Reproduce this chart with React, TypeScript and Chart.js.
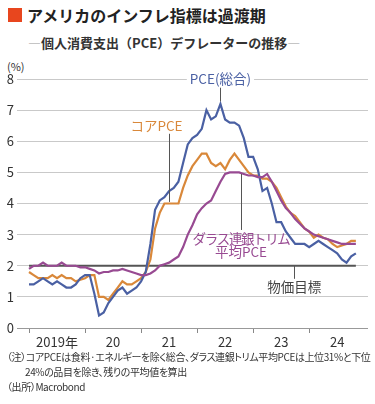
import React, { useEffect, useRef } from "react";
import { Chart, registerables } from "chart.js";

Chart.register(...registerables);

const yearLabels = ["2019年", "20", "21", "22", "23", "24"];
const yTicks = [0, 1, 2, 3, 4, 5, 6, 7, 8];

// Monthly, Jan 2019 .. Nov 2024 (year-over-year %)
const pceHeadline = [
  1.4, 1.4, 1.5, 1.6, 1.5, 1.4, 1.5, 1.4, 1.3, 1.3, 1.4, 1.6,
  1.7, 1.7, 1.1, 0.4, 0.5, 0.8, 1.0, 1.2, 1.3, 1.1, 1.2, 1.3,
  1.5, 1.8, 2.7, 3.8, 4.1, 4.2, 4.4, 4.5, 4.7, 5.3, 5.9, 6.1,
  6.2, 6.4, 7.0, 6.7, 6.8, 7.2, 6.7, 6.6, 6.6, 6.5, 6.1, 5.5,
  5.5, 5.1, 4.4, 4.5, 4.0, 3.4, 3.4, 3.1, 2.9, 2.7, 2.7, 2.7,
  2.6, 2.7, 2.8, 2.7, 2.6, 2.5, 2.4, 2.2, 2.1, 2.3, 2.4,
];
const pceCore = [
  1.8, 1.7, 1.6, 1.6, 1.6, 1.7, 1.6, 1.7, 1.6, 1.6, 1.5, 1.55,
  1.6, 1.7, 1.7, 1.0, 1.0, 0.9, 1.1, 1.3, 1.5, 1.4, 1.4, 1.5,
  1.6, 1.8, 2.2, 3.2, 3.7, 4.0, 4.0, 4.0, 4.0, 4.5, 4.9, 5.2,
  5.4, 5.6, 5.6, 5.3, 5.2, 5.3, 5.1, 5.4, 5.6, 5.4, 5.2, 5.0,
  4.9, 4.9, 4.8, 4.8, 4.7, 4.5, 4.2, 3.9, 3.7, 3.6, 3.4, 3.2,
  3.1, 2.9, 3.0, 2.9, 2.85, 2.7, 2.6, 2.65, 2.7, 2.8, 2.8,
];
const pceTrimmed = [
  1.9, 2.0, 2.0, 2.1, 2.0, 2.0, 2.0, 2.1, 2.0, 2.0, 2.0, 1.95,
  1.95, 1.9, 1.85, 1.75, 1.8, 1.8, 1.85, 1.85, 1.9, 1.85, 1.8, 1.75,
  1.7, 1.7, 1.75, 1.85, 2.0, 2.05, 2.1, 2.2, 2.3, 2.6, 3.0, 3.3,
  3.65, 3.85, 4.0, 4.1, 4.4, 4.7, 4.95, 5.0, 5.0, 5.0, 4.95, 4.9,
  4.9, 4.85, 4.85, 4.95, 4.7, 4.4, 4.1, 3.85, 3.7, 3.5, 3.35, 3.2,
  3.1, 3.0, 2.95, 2.9, 2.85, 2.8, 2.75, 2.7, 2.7, 2.7, 2.7,
];
const targetValue = 2;

const FONT = '"Noto Sans CJK JP", "Noto Sans", sans-serif';
const BLUE = "#4a60a3";
const ORANGE = "#d9883a";
const PURPLE = "#984a92";
const DARK = "#555555";

const toPoints = (arr: number[]) => arr.map((v, i) => ({ x: i, y: v }));

const annotationPlugin = {
  id: "annots",
  afterDatasetsDraw(chart: any) {
    const { ctx, scales } = chart;
    const xs = scales.x;
    const ys = scales.y;
    const X = (v: number) => xs.getPixelForValue(v);
    const Y = (v: number) => ys.getPixelForValue(v);
    ctx.save();
    ctx.textAlign = "center";
    ctx.textBaseline = "middle";

    const leader = (x: number, y1: number, y2: number) => {
      ctx.strokeStyle = DARK;
      ctx.lineWidth = 1;
      ctx.beginPath();
      ctx.moveTo(Math.round(X(x)) + 0.5, Y(y1));
      ctx.lineTo(Math.round(X(x)) + 0.5, Y(y2));
      ctx.stroke();
    };
    const label = (text: string, x: number, y: number, color: string, bg: boolean, spacing = "0px") => {
      ctx.font = `13.5px ${FONT}`;
      (ctx as any).letterSpacing = spacing;
      const w = ctx.measureText(text).width;
      if (bg) {
        ctx.fillStyle = "#ffffff";
        ctx.fillRect(X(x) - w / 2 - 3, Y(y) - 8, w + 6, 16);
      }
      ctx.fillStyle = color;
      ctx.fillText(text, X(x), Y(y));
      (ctx as any).letterSpacing = "0px";
    };

    // PCE (総合)
    label("PCE(総合)", 41, 8.0, BLUE, true);
    leader(41, 7.72, 7.28);
    // コアPCE
    label("コアPCE", 27.3, 6.5, ORANGE, true);
    leader(30, 6.24, 4.05);
    // ダラス連銀トリム平均PCE
    leader(45.4, 4.95, 3.15);
    label("ダラス連銀トリム", 45.4, 2.85, PURPLE, false, "-1.4px");
    label("平均PCE", 45.4, 2.43, PURPLE, false);
    // 物価目標
    leader(56.8, 2.0, 1.58);
    label("物価目標", 56.8, 1.32, "#444", false);
    ctx.restore();
  },
};

export default function App() {
  const ref = useRef<HTMLCanvasElement | null>(null);

  useEffect(() => {
    if (!ref.current) return;
    const chart = new Chart(ref.current, {
      type: "line",
      data: {
        datasets: [
          {
            label: "PCE（総合）",
            data: toPoints(pceHeadline),
            borderColor: BLUE,
            borderWidth: 2.2,
            pointRadius: 0,
            tension: 0,
            order: 1,
          },
          {
            label: "コアPCE",
            data: toPoints(pceCore),
            borderColor: ORANGE,
            borderWidth: 2.2,
            pointRadius: 0,
            tension: 0,
            order: 2,
          },
          {
            label: "ダラス連銀トリム平均PCE",
            data: toPoints(pceTrimmed),
            borderColor: PURPLE,
            borderWidth: 2.2,
            pointRadius: 0,
            tension: 0,
            order: 0,
          },
          {
            label: "物価目標",
            data: [
              { x: 0, y: targetValue },
              { x: pceHeadline.length - 1, y: targetValue },
            ],
            borderColor: DARK,
            borderWidth: 2,
            pointRadius: 0,
            order: 5,
          },
        ],
      },
      options: {
        animation: false,
        responsive: false,
        maintainAspectRatio: false,
        layout: { padding: { top: 29, right: 7, left: 0, bottom: 0 } },
        plugins: { legend: { display: false }, tooltip: { enabled: false } },
        scales: {
          x: {
            type: "linear",
            min: -2.57,
            max: 72.6,
            afterBuildTicks: (scale: any) => {
              const t = [];
              for (let v = 0; v <= 66; v += 6) t.push({ value: v });
              scale.ticks = t;
            },
            afterFit: (scale: any) => {
              scale.height = 22;
            },
            ticks: {
              autoSkip: false,
              maxRotation: 0,
              padding: 1,
              color: "#333",
              font: { size: 13, family: FONT },
              callback: (v: any) => (Number(v) % 12 === 6 ? yearLabels[(Number(v) - 6) / 12] : ""),
            },
            grid: {
              drawOnChartArea: false,
              drawTicks: true,
              tickLength: 5,
              color: (c: any) => (c.tick && c.tick.value % 12 === 0 ? "#888" : "rgba(0,0,0,0)"),
            },
            border: { display: false },
          },
          y: {
            min: 0,
            max: 8,
            afterBuildTicks: (scale: any) => {
              scale.ticks = yTicks.map((v) => ({ value: v }));
            },
            afterFit: (scale: any) => {
              scale.width = 17;
            },
            ticks: {
              padding: 3,
              color: "#333",
              font: { size: 13, family: FONT },
            },
            grid: {
              drawTicks: false,
              color: (c: any) => (c.tick && c.tick.value === 0 ? "#999" : "#c9c9c9"),
              lineWidth: 1,
            },
            border: { display: false },
          },
        },
      },
      plugins: [annotationPlugin],
    } as any);
    return () => chart.destroy();
  }, []);

  return (
    <div
      style={{
        position: "absolute",
        left: 0,
        top: 0,
        width: 375,
        height: 404,
        background: "#fff",
        fontFamily: FONT,
        color: "#222",
        overflow: "hidden",
      }}
    >
      <div style={{ position: "absolute", left: 8, top: 8, width: 14, height: 14, background: "#e8461e" }} />
      <div
        style={{
          position: "absolute",
          left: 27,
          top: 3,
          fontSize: 16,
          fontWeight: 700,
          lineHeight: "24px",
          whiteSpace: "nowrap",
          color: "#222",
        }}
      >
        アメリカのインフレ指標は過渡期
      </div>
      <div
        style={{
          position: "absolute",
          left: 28,
          top: 33,
          fontSize: 13,
          fontWeight: 700,
          lineHeight: "20px",
          whiteSpace: "nowrap",
          color: "#333",
        }}
      >
        <span style={{ color: "#999", fontWeight: 400 }}>―</span>個人消費支出（PCE）デフレーターの推移
        <span style={{ color: "#999", fontWeight: 400 }}>―</span>
      </div>
      <div
        style={{
          position: "absolute",
          left: 7,
          top: 58,
          fontSize: 11,
          lineHeight: "16px",
          color: "#333",
        }}
      >
        (%)
      </div>
      <canvas
        ref={ref}
        width={375}
        height={300}
        style={{ position: "absolute", left: 0, top: 50, width: 375, height: 300 }}
      />
      <div
        style={{
          position: "absolute",
          left: 7,
          top: 350,
          width: 368,
          fontSize: 10,
          lineHeight: "14.5px",
          color: "#333",
          whiteSpace: "nowrap",
          fontFeatureSettings: '"palt"',
          letterSpacing: "-0.4px",
        }}
      >
        <div>（注）コアPCEは食料·エネルギーを除く総合、ダラス連銀トリム平均PCEは上位31%と下位</div>
        <div style={{ paddingLeft: 18 }}>24%の品目を除き、残りの平均値を算出</div>
        <div style={{ marginTop: 1 }}>（出所）Macrobond</div>
      </div>
    </div>
  );
}
